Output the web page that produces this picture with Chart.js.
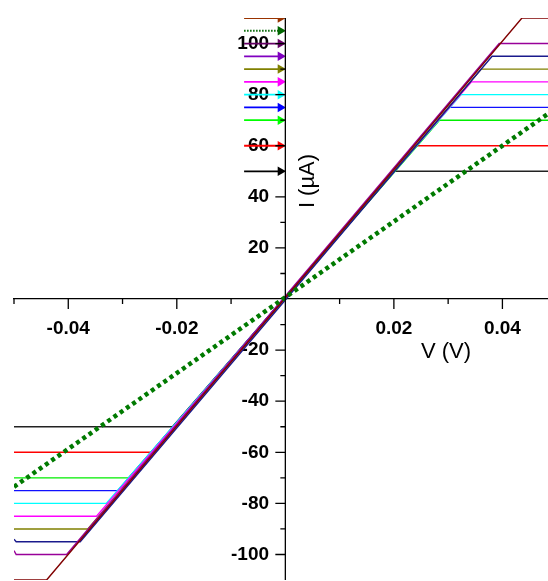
<!DOCTYPE html>
<html>
<head>
<meta charset="utf-8">
<script src="https://cdn.jsdelivr.net/npm/chart.js@4/dist/chart.umd.min.js"></script>
<style>
    body { margin: 0; background: #fff; }
    #wrap { width: 548px; height: 581px; }
</style>
</head>
<body>
<div id="wrap"><canvas id="myChart" width="548" height="581"></canvas></div>
<script>
    // current compliance levels (uA) and where each trace hits them (V)
    const levels   = [50, 60, 70, 75, 80, 85, 90, 95, 100, 110];
    const kneeNeg  = [-0.0208, -0.0247, -0.0289, -0.0309, -0.0330, -0.0348, -0.0364, -0.0378, -0.0403, -0.0440];
    const kneePos  = [0.0201, 0.0241, 0.0284, 0.0302, 0.0324, 0.0343, 0.0361, 0.0381, 0.0394, 0.0436];
    const leftEndI = [-50, -60, -70, -75, -80, -85, -90, -94, -98.5, -110];
    const colors   = ['#222222', '#ff0000', '#00ee00', '#1010ff', '#00ffff', '#ff00ff', '#808000', '#1a1a8c', '#990099', '#800000'];

    // dotted resistor-like trace
    const dotV = [-0.05, 0.0484];
    const dotI = [-73.5, 72.5];

    // arrows on the I axis
    const arrowLevels = [110, 105, 100, 95, 90, 85, 80, 75, 70, 60, 50];
    const arrowColors = ['#993300', '#006600', '#660066', '#8000c0', '#808000', '#ff00ff', '#00ffff', '#0000ff', '#00ff00', '#ff0000', '#000000'];
    const arrowFrom = -0.0076;
    const arrowTip = -0.0009;

    // tick values
    const xMajor = [-0.04, -0.02, 0.02, 0.04];
    const xMinor = [-0.05, -0.03, -0.01, 0.01, 0.03];
    const yMajor = [-100, -80, -60, -40, -20, 20, 40, 60, 80, 100];
    const yMinor = [-90, -70, -50, -30, -10, 10, 30, 50, 70, 90];

    const datasets = [];

    datasets.push({
        data: [{x: dotV[0], y: dotI[0]}, {x: dotV[1], y: dotI[1]}],
        borderColor: '#007a00',
        borderWidth: 4.5,
        borderDash: [4, 3.6],
        borderCapStyle: 'butt',
        pointRadius: 0,
        order: 0
    });

    levels.forEach(function (L, i) {
        datasets.push({
            data: [
                {x: -0.05, y: leftEndI[i]},
                {x: -0.0496, y: -L},
                {x: kneeNeg[i], y: -L},
                {x: kneePos[i], y: L},
                {x: 0.05, y: L}
            ],
            borderColor: colors[i],
            borderWidth: 1.4,
            pointRadius: 0,
            order: levels.length - i
        });
    });

    arrowLevels.forEach(function (L, i) {
        datasets.push({
            data: [{x: arrowFrom, y: L}, {x: arrowTip, y: L}],
            borderColor: arrowColors[i],
            borderWidth: 1.8,
            borderDash: i === 1 ? [1.5, 1.5] : [],
            pointRadius: [0, 5.5],
            pointStyle: 'triangle',
            rotation: 90,
            pointBackgroundColor: arrowColors[i],
            pointBorderColor: arrowColors[i],
            pointBorderWidth: 0,
            order: 0
        });
    });

    const fontFamily = 'Arial, "Liberation Sans", sans-serif';

    // ticks, the I axis line and the axis titles
    const axisExtras = {
        id: 'axisExtras',
        afterDraw(chart) {
            const ctx = chart.ctx;
            const area = chart.chartArea;
            const xs = chart.scales.x, ys = chart.scales.y;
            const x0 = xs.getPixelForValue(0), y0 = ys.getPixelForValue(0);
            ctx.save();
            ctx.strokeStyle = '#000';
            ctx.lineWidth = 1.3;
            ctx.beginPath();
            ctx.moveTo(x0, area.top);
            ctx.lineTo(x0, area.bottom);
            xMajor.forEach(v => { const p = xs.getPixelForValue(v); ctx.moveTo(p, y0); ctx.lineTo(p, y0 + 10); });
            xMinor.forEach(v => { const p = xs.getPixelForValue(v); ctx.moveTo(p, y0); ctx.lineTo(p, y0 + 5); });
            yMajor.forEach(v => { const p = ys.getPixelForValue(v); ctx.moveTo(x0, p); ctx.lineTo(x0 - 10, p); });
            yMinor.forEach(v => { const p = ys.getPixelForValue(v); ctx.moveTo(x0, p); ctx.lineTo(x0 - 5, p); });
            ctx.stroke();

            ctx.fillStyle = '#000';
            ctx.font = '22px ' + fontFamily;
            ctx.textAlign = 'center';
            ctx.textBaseline = 'middle';
            ctx.fillText('V (V)', 446, 352);
            ctx.translate(308, 181);
            ctx.rotate(-Math.PI / 2);
            ctx.fillText('I (\u00b5A)', 0, 0);
            ctx.restore();
        }
    };

    const ctx = document.getElementById('myChart');

    let chart = new Chart(ctx, {
        type: 'line',
        data: {datasets: datasets},
        options: {
            responsive: false,
            animation: false,
            layout: {autoPadding: false, padding: {left: 14, top: 18, right: 0, bottom: 0}},
            plugins: {legend: {display: false}, tooltip: {enabled: false}},
            scales: {
                x: {
                    type: 'linear',
                    min: -0.05,
                    max: 0.0484,
                    position: {y: 0},
                    grid: {display: false, drawTicks: true, tickLength: 18},
                    border: {display: true, color: '#000', width: 1.3},
                    ticks: {
                        stepSize: 0.01,
                        includeBounds: false,
                        autoSkip: false,
                        maxRotation: 0,
                        padding: 0,
                        color: '#000',
                        font: {family: fontFamily, size: 19, weight: 'bold'},
                        callback: v => xMajor.some(m => Math.abs(m - v) < 1e-6) ? v.toFixed(2) : ''
                    }
                },
                y: {
                    type: 'linear',
                    min: -110,
                    max: 110,
                    // labels end a little left of the I axis, which the plugin draws at V = 0
                    position: {x: -0.003},
                    grid: {display: false, drawTicks: false},
                    border: {display: false},
                    ticks: {
                        stepSize: 10,
                        autoSkip: false,
                        padding: 0,
                        color: '#000',
                        font: {family: fontFamily, size: 19, weight: 'bold', lineHeight: 0.1},
                        callback: v => yMajor.includes(v) ? String(v) : ''
                    }
                }
            }
        },
        plugins: [axisExtras]
    });
</script>
</body>
</html>
